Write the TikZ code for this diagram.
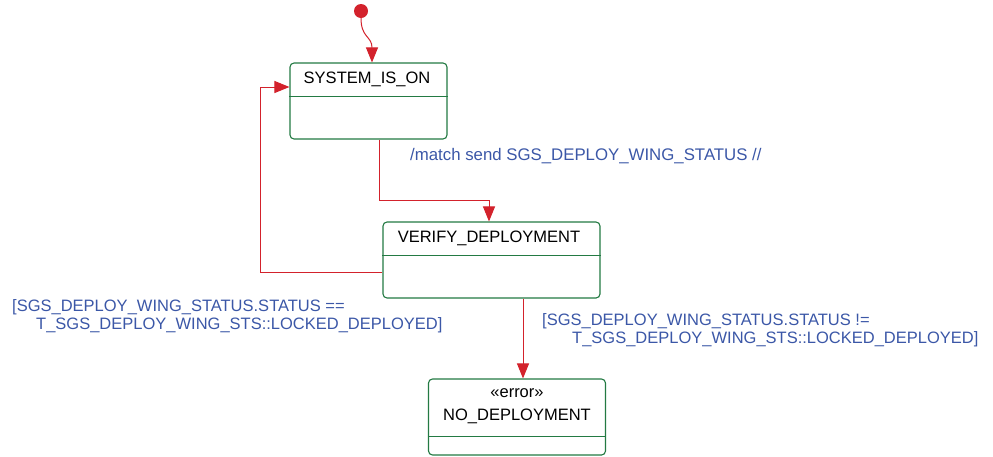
\documentclass[tikz,border=0pt]{standalone}
\usepackage{fontspec}
\setmainfont{Liberation Sans}
\usetikzlibrary{arrows.meta,calc}
\definecolor{stgreen}{HTML}{237A43}
\definecolor{trred}{HTML}{D3222C}
\definecolor{lblblue}{HTML}{3B57A7}
\tikzset{
  statebox/.style={draw=stgreen, line width=1.1pt, rounded corners=4pt, fill=white, inner sep=0pt},
  divider/.style={draw=stgreen, line width=0.9pt},
  stname/.style={font=\fontsize{16.5}{19}\selectfont, text=black, inner sep=0pt},
  tr/.style={draw=trred, line width=1pt, -{Triangle[length=15pt,width=12pt]}},
  lbl/.style={font=\fontsize{16.8}{18}\selectfont, text=lblblue, inner sep=0pt, align=left},
  guard/.style={lbl, font=\fontsize{16.5}{18}\selectfont},
}
\begin{document}
\begin{tikzpicture}[x=1pt,y=-1pt]
\useasboundingbox (0,0) rectangle (993,456);
% initial pseudo-state
\node[circle, fill=trred, minimum size=14pt, inner sep=0pt] (init) at (361,11) {};
% states
\node[statebox, minimum width=157pt, minimum height=76pt] (s) at (368.5,101) {};
\draw[divider] (s.west |- 0,96) -- (s.east |- 0,96);
\node[stname] (sname) at (367,79) {SYSTEM\_IS\_ON};

\node[statebox, minimum width=217pt, minimum height=76pt] (v) at (491.5,260) {};
\draw[divider] (v.west |- 0,255) -- (v.east |- 0,255);
\node[stname] (vname) at (489,238) {VERIFY\_DEPLOYMENT};

\node[statebox, minimum width=177pt, minimum height=76pt] (n) at (517,417) {};
\draw[divider] (n.west |- 0,436) -- (n.east |- 0,436);
\node[stname] (nster) at (517,393) {«error»};
\node[stname] (nname) at (517,416) {NO\_DEPLOYMENT};

% coordinates
\coordinate (p0) at (372,0);
\coordinate (k1) at (379,200);
\coordinate (k2) at (489,200);
\coordinate (k3) at (260,272);
\coordinate (k4) at (260,87);
\coordinate (k5) at (523,0);

% transitions
\draw[tr] (init.south) .. controls (361,38) and (372,36) .. (p0 |- s.north);
\draw[tr] (k1 |- s.south) -- (k1) -- (k2) -- (k2 |- v.north);
\draw[tr] (v.west |- k3) -- (k3) -- (k4) -- (s.west |- k4);
\draw[tr] (k5 |- v.south) -- (k5 |- n.north);

% labels
\node[lbl, anchor=west] (l1) at (410,156) {/match send SGS\_DEPLOY\_WING\_STATUS //};
\node[guard, anchor=north west] (l2) at (12,299) {[SGS\_DEPLOY\_WING\_STATUS.STATUS ==\\\hspace*{24pt}T\_SGS\_DEPLOY\_WING\_STS::LOCKED\_DEPLOYED]};
\node[guard, anchor=north west] (l3) at (542,313) {[SGS\_DEPLOY\_WING\_STATUS.STATUS !=\\\hspace*{30pt}T\_SGS\_DEPLOY\_WING\_STS::LOCKED\_DEPLOYED]};
\end{tikzpicture}
\end{document}
